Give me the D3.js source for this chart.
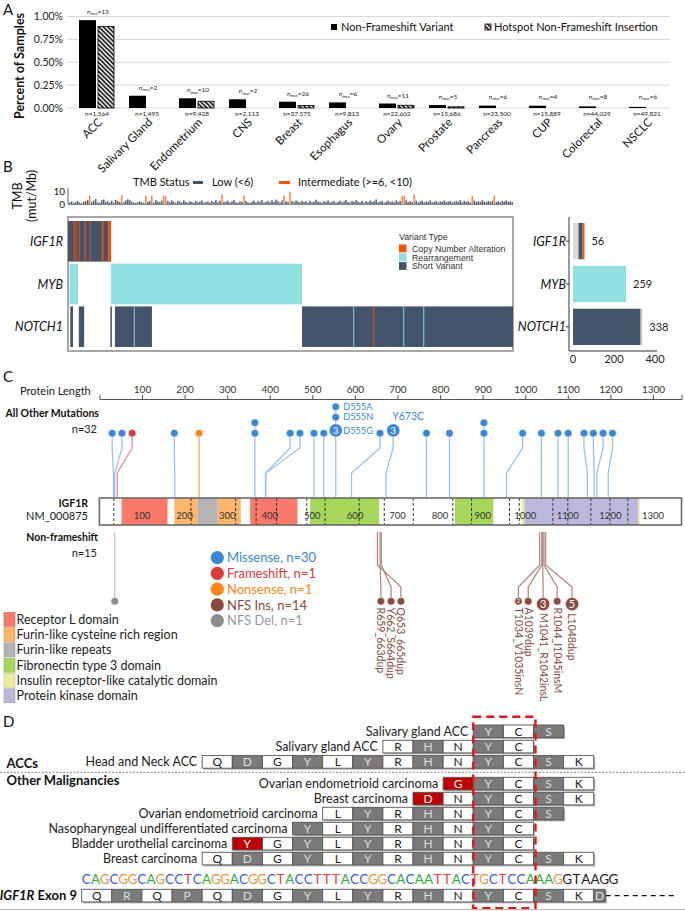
<!DOCTYPE html>
<html><head><meta charset="utf-8">
<script src="https://cdn.jsdelivr.net/npm/d3@7"></script>
<style>body{margin:0;background:#fff}svg{display:block}</style>
</head><body>
<svg id="chart" width="685" height="911"></svg>
<script>
// ================= DATA =================
// Panel A
const cancerTypes = ["ACC","Salivary Gland","Endometrium","CNS","Breast","Esophagus","Ovary","Prostate","Pancreas","CUP","Colorectal","NSCLC"];
const sampleCounts = ["1,564","1,495","9,428","2,113","37,575","9,813","22,602","15,686","23,500","15,889","44,029","49,821"];
const mutCounts = [15,2,10,2,26,6,11,5,6,4,8,6];
const nonFrameshiftPct = [0.96,0.134,0.106,0.095,0.069,0.061,0.049,0.032,0.026,0.025,0.018,0.012];
const hotspotInsPct = [0.89,0,0.074,0,0.027,0,0.03,0.013,0,0,0,0];
const pctTicks = [0,0.25,0.5,0.75,1.0];
const legendA = ["Non-Frameshift Variant","Hotspot Non-Frameshift Insertion"];

// Panel B
const tmbValues = [
1.2,2.0,0.8,1.5,2.4,1.0,0.6,1.8,2.2,3.0, 6.5,1.4,2.6,3.8,1.2,0.9,2.8,3.4,1.6,2.0,
1.1,2.5,1.0,3.2,2.2,1.5,7.0,1.3,2.7,3.6, 2.9,1.8,1.0,0.7,1.4,2.1,1.2,0.9,6.5,1.6,
2.3,6.5,1.1,3.0,2.0,1.4,2.6,6.5,6.0,2.2, 1.3,2.8,1.7,0.8,2.4,1.9,1.2,2.9,1.5,1.0,
2.2,1.6,0.9,2.5,1.3,1.8,2.7,1.1,1.4,2.0, 1.0,2.3,1.5,3.1,1.2,2.4,7.5,1.6,1.9,2.6,
1.1,2.0,3.2,1.4,0.8,2.1,1.7,6.5,2.4,1.3, 0.9,1.8,2.6,1.2,2.2,1.5,3.0,1.0,1.7,2.4,
1.3,2.9,1.6,3.4,2.2,1.1,2.8,6.5,2.0,1.5, 9.5,2.3,1.4,2.7,1.9,1.2,2.5,1.6,2.1,1.0,
2.6,1.3,1.8,3.3,2.0,1.4,0.9,2.2,1.5,2.8, 1.2,1.9,2.4,1.0,1.7,2.6,1.3,2.0,3.1,1.5,
1.1,2.3,1.6,2.9,1.8,1.2,2.5,1.0,2.2,1.4, 2.7,1.6,2.1,3.5,1.3,1.9,2.4,1.0,1.8,2.6,
1.5,2.0,1.2,2.8,1.7,2.3,6.0,6.5,2.9,1.4, 2.2,1.6,7.5,2.5,1.1,1.9,2.6,1.3,2.0,1.5,
2.8,1.2,1.7,2.3,1.0,2.1,1.6,2.7,1.4,1.9, 2.5,1.1,1.8,2.2,1.5,3.0,1.3,2.4,1.7,2.0,
1.2,6.0,2.6,1.6,2.1,1.4,2.9,1.8,1.3,2.3, 1.7,2.5,6.5,1.5,2.0,1.2,2.4,1.9,2.8,1.6,
2.1,1.4];
const tmbTicks = [0,10];
const tmbLegend = ["Low (<6)","Intermediate (>=6, <10)"];
const oncoGenes = ["IGF1R","MYB","NOTCH1"];
const oncoSampleTotal = 578;
const variantTypes = ["Copy Number Alteration","Rearrangement","Short Variant"];
// [gene, first sample, last sample, variant type]
const oncoSegments = [
 ["IGF1R",0,56,"Short Variant"],
 ["IGF1R",7.3,8.6,"Copy Number Alteration"],["IGF1R",10,11.2,"Copy Number Alteration"],
 ["IGF1R",14,15.2,"Copy Number Alteration"],["IGF1R",21.6,22.9,"Copy Number Alteration"],
 ["IGF1R",28.2,29.4,"Copy Number Alteration"],["IGF1R",43.8,46,"Copy Number Alteration"],
 ["IGF1R",51.6,55.5,"Copy Number Alteration"],
 ["MYB",2,13,"Rearrangement"],["MYB",56,304,"Rearrangement"],
 ["NOTCH1",3,6.5,"Short Variant"],["NOTCH1",14,21,"Short Variant"],["NOTCH1",55,57,"Short Variant"],
 ["NOTCH1",61,109,"Short Variant"],["NOTCH1",304,578,"Short Variant"],
 ["NOTCH1",85.5,86.7,"Rearrangement"],["NOTCH1",370.5,371.7,"Rearrangement"],
 ["NOTCH1",396.5,397.7,"Copy Number Alteration"],["NOTCH1",435.5,436.7,"Rearrangement"],
 ["NOTCH1",461.5,462.7,"Rearrangement"]
];
const geneTotals = [56,259,338];
// [gene, variant type, count]
const geneStacks = [
 ["IGF1R","Other",27],["IGF1R","Short Variant",20],["IGF1R","Copy Number Alteration",9],
 ["MYB","Rearrangement",259],
 ["NOTCH1","Short Variant",330],["NOTCH1","Rearrangement",3],["NOTCH1","CNA light",5]
];
const geneBarTicks = [0,200,400];

// Panel C
const proteinLength = 1367;
const proteinTicks = [100,200,300,400,500,600,700,800,900,1000,1100,1200,1300];
const domainNames = ["Receptor L domain","Furin-like cysteine rich region","Furin-like repeats","Fibronectin type 3 domain","Insulin receptor-like catalytic domain","Protein kinase domain"];
// [domain index, start aa, end aa]
const domainRegions = [[0,52,160],[1,176,231],[2,231,278],[1,278,332],[0,354,465],[3,495,657],[3,835,925],[4,992,998],[5,998,1266],[4,1266,1270]];
const exonBoundaries = [34,215,320,368,416,487,530,610,669,737,830,874,963,986,1065,1100,1154,1199,1241];
// [type, aa, display aa, count, label]
const otherMutations = [
 ["Missense",33,30,1,""],["Missense",36,53,1,""],["Frameshift",42,77,1,""],
 ["Missense",177,176,1,""],["Nonsense",234,234,1,""],
 ["Missense",365,365,1,""],["Missense",365,365,1,""],
 ["Missense",390,448,1,""],["Missense",391,471,1,""],
 ["Missense",504,504,1,""],["Missense",527,527,1,""],
 ["Missense",555,555,3,"D555G"],["Missense",555,555,1,"D555N"],["Missense",555,555,1,"D555A"],
 ["Missense",592,659,1,""],["Missense",673,690,3,"Y673C"],
 ["Missense",768,768,1,""],["Missense",822,822,1,""],
 ["Missense",903,903,1,""],["Missense",903,903,1,""],
 ["Missense",956,994,1,""],["Missense",1038,1038,1,""],["Missense",1077,1077,1,""],
 ["Missense",1101,1101,1,""],["Missense",1146,1138,1,""],["Missense",1162,1160,1,""],
 ["Missense",1168,1183,1,""],["Missense",1195,1205,1,""]
];
const nonFrameshiftMutations = [
 ["NFS Del",36,36,1,""],
 ["NFS Ins",659,661,1,"R659_663dup"],["NFS Ins",662,685,1,"Y662_S664dup"],["NFS Ins",653,708,1,"Q653_665dup"],
 ["NFS Ins",1034,984,2,"T1034_V1035insN"],["NFS Ins",1039,1007,1,"A1039dup"],
 ["NFS Ins",1041,1042,3,"M1041_R1042insL"],["NFS Ins",1044,1075,1,"R1044_I1045insM"],
 ["NFS Ins",1048,1110,5,"L1048dup"]
];
const mutTypeNames = ["Missense","Frameshift","Nonsense","NFS Ins","NFS Del"];
const mutTypeCounts = [30,1,1,14,1];

// Panel D
const exon9AminoAcids = ["Q","R","Q","P","Q","D","G","Y","L","Y","R","H","N","Y","C","S","K","D"];
const exon9Dna = "CAGCGGCAGCCTCAGGACGGCTACCTTTACCGGCACAATTACTGCTCCAAAGGTAAGG";
const exon9CodingLength = 52;
// [group, label, first column, residues, mutated columns]
const alignmentRows = [
 ["ACCs","Salivary gland ACC",13,"YCS",[]],
 ["ACCs","Salivary gland ACC",10,"RHNYC",[]],
 ["ACCs","Head and Neck ACC",4,"QDGYLYRHNYCSK",[]],
 ["Other Malignancies","Ovarian endometrioid carcinoma",12,"GYCSK",[12]],
 ["Other Malignancies","Breast carcinoma",11,"DNYCSK",[11]],
 ["Other Malignancies","Ovarian endometrioid carcinoma",8,"LYRHNYCS",[]],
 ["Other Malignancies","Nasopharyngeal undifferentiated carcinoma",7,"YLYRHNYC",[]],
 ["Other Malignancies","Bladder urothelial carcinoma",5,"YGYLYRHNYC",[5]],
 ["Other Malignancies","Breast carcinoma",4,"QDGYLYRHNYCSK",[]]
];
const hotspotCols = [13,14];

// ================= DRAW =================
const F = "Lato, 'Open Sans', sans-serif";
const svg = d3.select("#chart").style("font-family",F);
const defs = svg.append("defs");
const pat = defs.append("pattern").attr("id","hatch").attr("patternUnits","userSpaceOnUse").attr("width",4.5).attr("height",4.5);
pat.append("rect").attr("width",4.5).attr("height",4.5).attr("fill","#fff");
pat.append("path").attr("d","M-1,-1 L5.5,5.5 M-1,3.5 L1,5.5 M3.5,-1 L5.5,1").attr("stroke","#000").attr("stroke-width",1.5);

const panelLetter = (t,x,y)=>svg.append("text").attr("x",x).attr("y",y).attr("font-size",15).attr("fill","#111").text(t);
panelLetter("A",3,15); panelLetter("B",3,172); panelLetter("C",3,382); panelLetter("D",3,727);

// ---------- Panel A ----------
const gA = svg.append("g");
const xA = d3.scaleBand().domain(cancerTypes).range([72,672]);
const cA = d => xA(d)+xA.bandwidth()/2;
const yA = d3.scaleLinear().domain([0,1]).range([108,16.5]);
gA.selectAll("line.grid").data(pctTicks).join("line").attr("class","grid")
 .attr("x1",67).attr("x2",670).attr("y1",d=>yA(d)).attr("y2",d=>yA(d)).attr("stroke","#d9d9d9");
gA.selectAll("text.yt").data(pctTicks).join("text").attr("class","yt")
 .attr("x",63).attr("y",d=>yA(d)+3.8).attr("text-anchor","end").attr("font-size",10.5).attr("fill","#222")
 .text(d=>d3.format(".2f")(d)+"%");
gA.append("text").attr("transform","translate(24,66) rotate(-90)").attr("text-anchor","middle")
 .attr("font-size",12.5).attr("font-weight","bold").attr("fill","#111").text("Percent of Samples");
gA.selectAll("rect.nf").data(cancerTypes).join("rect").attr("class","nf")
 .attr("x",d=>cA(d)-18).attr("width",17)
 .attr("y",(d,i)=>yA(nonFrameshiftPct[i])).attr("height",(d,i)=>yA(0)-yA(nonFrameshiftPct[i])).attr("fill","#000");
gA.selectAll("rect.hs").data(cancerTypes.filter((d,i)=>hotspotInsPct[i]>0)).join("rect").attr("class","hs")
 .attr("x",d=>cA(d)+1).attr("width",16)
 .attr("y",d=>yA(hotspotInsPct[cancerTypes.indexOf(d)]))
 .attr("height",d=>yA(0)-yA(hotspotInsPct[cancerTypes.indexOf(d)]))
 .attr("fill","url(#hatch)").attr("stroke","#000").attr("stroke-width",0.8);
const nm = gA.selectAll("text.nm").data(cancerTypes).join("text").attr("class","nm")
 .attr("x",d=>cA(d)+1).attr("text-anchor","middle").attr("font-size",6.5).attr("fill","#222")
 .attr("y",(d,i)=>Math.min(yA(Math.max(nonFrameshiftPct[i],hotspotInsPct[i]))-6,99));
nm.append("tspan").text("n");
nm.append("tspan").attr("font-size",4.2).attr("dy",1.2).text("mut");
nm.append("tspan").attr("dy",-1.2).text((d,i)=>"="+mutCounts[i]);
gA.selectAll("text.ns").data(cancerTypes).join("text").attr("class","ns")
 .attr("x",d=>cA(d)).attr("y",116).attr("text-anchor","middle").attr("font-size",6.5).attr("fill","#222")
 .text((d,i)=>"n="+sampleCounts[i]);
gA.selectAll("text.cat").data(cancerTypes).join("text").attr("class","cat")
 .attr("transform",d=>`translate(${cA(d)+6},123) rotate(-45)`).attr("text-anchor","end")
 .attr("font-size",11.5).attr("fill","#111").text(d=>d);
gA.append("rect").attr("x",331).attr("y",24).attr("width",6).attr("height",6).attr("fill","#000");
gA.append("text").attr("x",341).attr("y",30.5).attr("font-size",11).attr("fill","#111").text(legendA[0]);
gA.append("rect").attr("x",485).attr("y",24).attr("width",6).attr("height",6).attr("fill","url(#hatch)").attr("stroke","#000").attr("stroke-width",0.8);
gA.append("text").attr("x",494).attr("y",30.5).attr("font-size",11).attr("fill","#111").text(legendA[1]);

// ---------- Panel B ----------
const colDark = "#44546a", colOrange = "#ff4f00", colTeal = "#8fe0df";
const typeColor = {"Copy Number Alteration":colOrange,"Rearrangement":colTeal,"Short Variant":colDark,"Other":"#d9d9d9","CNA light":"#f8b98f"};
const gB = svg.append("g");
gB.append("text").attr("x",133).attr("y",186).attr("font-size",11).attr("fill","#111").text("TMB Status");
gB.append("rect").attr("x",193).attr("y",181).attr("width",10).attr("height",3).attr("fill",colDark);
gB.append("text").attr("x",212).attr("y",186).attr("font-size",11).attr("fill","#111").text(tmbLegend[0]);
gB.append("rect").attr("x",279).attr("y",181).attr("width",11).attr("height",3).attr("fill",colOrange);
gB.append("text").attr("x",298).attr("y",186).attr("font-size",11).attr("fill","#111").text(tmbLegend[1]);
const xT = d3.scaleBand().domain(d3.range(tmbValues.length)).range([69,513]).paddingInner(0.3);
const yT = d3.scaleLinear().domain([0,10]).range([204,191]);
gB.selectAll("rect.tmb").data(tmbValues).join("rect").attr("class","tmb")
 .attr("x",(d,i)=>xT(i)).attr("width",xT.bandwidth()).attr("y",d=>yT(d)).attr("height",d=>yT(0)-yT(d))
 .attr("fill",d=>d>=6?"#ff7a3d":colDark);
gB.append("line").attr("x1",68).attr("x2",68).attr("y1",188).attr("y2",205).attr("stroke","#666");
gB.append("line").attr("x1",68).attr("x2",513).attr("y1",204.5).attr("y2",204.5).attr("stroke","#888");
gB.selectAll("text.tt").data(tmbTicks).join("text").attr("class","tt").attr("x",65).attr("y",d=>yT(d)+3.5)
 .attr("text-anchor","end").attr("font-size",10).attr("fill","#222").text(d=>d);
gB.append("text").attr("transform","translate(22,196) rotate(-90)").attr("text-anchor","middle").attr("font-size",12.5).attr("fill","#111").text("TMB");
gB.append("text").attr("transform","translate(36,196) rotate(-90)").attr("text-anchor","middle").attr("font-size",12.5).attr("fill","#111").text("(mut/Mb)");
const xS = d3.scaleLinear().domain([0,oncoSampleTotal]).range([68,513]);
const yG = d3.scaleBand().domain(oncoGenes).range([221,347]).paddingInner(0.05);
gB.append("rect").attr("x",68).attr("y",217).attr("width",445).attr("height",134).attr("fill","#fff").attr("stroke","#a6a6a6").attr("stroke-width",2);
gB.selectAll("rect.cell").data(oncoSegments).join("rect").attr("class","cell")
 .attr("x",d=>xS(d[1])).attr("width",d=>Math.max(0.9,xS(d[2])-xS(d[1])))
 .attr("y",d=>yG(d[0])).attr("height",yG.bandwidth()).attr("fill",d=>typeColor[d[3]]);
gB.selectAll("text.gl").data(oncoGenes).join("text").attr("class","gl")
 .attr("x",63).attr("y",d=>yG(d)+yG.bandwidth()/2+4.5).attr("text-anchor","end")
 .attr("font-size",12.5).attr("font-style","italic").attr("fill","#111").text(d=>d);
gB.append("text").attr("x",399).attr("y",240).attr("font-size",8.8).attr("fill","#333").attr("font-family","'Liberation Sans',Arial,sans-serif").text("Variant Type");
variantTypes.forEach((v,i)=>{
 gB.append("rect").attr("x",399).attr("y",244.5+i*8.8).attr("width",7.5).attr("height",7.8).attr("fill",typeColor[v]);
 gB.append("text").attr("x",412).attr("y",251.8+i*8.8).attr("font-size",8.8).attr("fill","#333").attr("font-family","'Liberation Sans',Arial,sans-serif").text(v);
});
const xGB = d3.scaleLinear().domain([0,400]).range([573,655]);
const yGB = d3.scaleBand().domain(oncoGenes).range([221,347]).paddingInner(0.06);
const stackStart = geneStacks.map((d,i)=>d3.sum(geneStacks.slice(0,i).filter(e=>e[0]===d[0]),e=>e[2]));
gB.selectAll("rect.gbar").data(geneStacks).join("rect").attr("class","gbar")
 .attr("x",(d,i)=>xGB(stackStart[i])).attr("width",d=>xGB(d[2])-xGB(0))
 .attr("y",d=>yGB(d[0])+2).attr("height",yGB.bandwidth()-4).attr("fill",d=>typeColor[d[1]]);
gB.append("line").attr("x1",569).attr("x2",569).attr("y1",217).attr("y2",351).attr("stroke","#333");
gB.append("line").attr("x1",569).attr("x2",657).attr("y1",351).attr("y2",351).attr("stroke","#333");
gB.selectAll("text.bt").data(geneBarTicks).join("text").attr("class","bt").attr("x",d=>xGB(d)).attr("y",363)
 .attr("text-anchor","middle").attr("font-size",11).attr("fill","#222").text(d=>d);
gB.selectAll("text.bgl").data(oncoGenes).join("text").attr("class","bgl")
 .attr("x",566).attr("y",d=>yGB(d)+yGB.bandwidth()/2+4.5).attr("text-anchor","end")
 .attr("font-size",12.5).attr("font-style","italic").attr("fill","#111").text(d=>d);
gB.selectAll("line.btk").data(oncoGenes).join("line").attr("class","btk").attr("x1",566).attr("x2",569)
 .attr("y1",d=>yGB(d)+yGB.bandwidth()/2).attr("y2",d=>yGB(d)+yGB.bandwidth()/2).attr("stroke","#333");
gB.selectAll("text.bv").data(oncoGenes).join("text").attr("class","bv")
 .attr("x",(d,i)=>xGB(geneTotals[i])+7).attr("y",d=>yGB(d)+yGB.bandwidth()/2+4)
 .attr("font-size",11).attr("fill","#222").text((d,i)=>geneTotals[i]);

// ---------- Panel C ----------
const gC = svg.append("g");
const xP = d3.scaleLinear().domain([0,proteinLength]).range([99.4,681.5]);
const mutColor = {"Missense":"#3a87d6","Frameshift":"#d93b3b","Nonsense":"#ff8514","NFS Ins":"#8a4a3e","NFS Del":"#8c8c8c"};
const stemColor = {"Missense":"#9cc2e8","Frameshift":"#ec8d8d","Nonsense":"#f7a461","NFS Ins":"#b08277","NFS Del":"#c4c4c4"};
const textColor = {"Missense":"#3a87d6","Frameshift":"#e03a3a","Nonsense":"#ff8514","NFS Ins":"#8a4a3e","NFS Del":"#9a9a9a"};
gC.append("text").attr("x",20).attr("y",394.5).attr("font-size",11).attr("fill","#222").text("Protein Length");
const axP = d3.axisTop(xP).tickValues(proteinTicks).tickFormat(d3.format("d")).tickSize(4).tickPadding(2);
const axg = gC.append("g").attr("transform","translate(0,399)").call(axP);
axg.select(".domain").attr("stroke","#555");
axg.selectAll(".tick line").attr("stroke","#555");
axg.selectAll(".tick text").attr("font-size",10).attr("fill","#333").attr("font-family",F);
gC.append("text").attr("x",99).attr("y",416.5).attr("text-anchor","end").attr("font-size",10.5).attr("font-weight","bold").attr("fill","#111").text("All Other Mutations");
gC.append("text").attr("x",97).attr("y",432.5).attr("text-anchor","end").attr("font-size",11).attr("fill","#222").text("n=32");
gC.append("text").attr("x",88).attr("y",506.5).attr("text-anchor","end").attr("font-size",10.5).attr("font-weight","bold").attr("fill","#111").text("IGF1R");
gC.append("text").attr("x",88).attr("y",520).attr("text-anchor","end").attr("font-size",11).attr("fill","#222").text("NM_000875");
gC.append("text").attr("x",98).attr("y",541).attr("text-anchor","end").attr("font-size",10.5).attr("font-weight","bold").attr("fill","#111").text("Non-frameshift");
gC.append("text").attr("x",97).attr("y",557).attr("text-anchor","end").attr("font-size",11).attr("fill","#222").text("n=15");
const domainColor = ["#f8786a","#fbb66c","#b3b3b3","#a6d75b","#ecec9e","#bcb8dc"];
const barTop = 498, barH = 27;
gC.append("rect").attr("x",xP(0)).attr("y",barTop).attr("width",xP(proteinLength)-xP(0)).attr("height",barH).attr("fill","#fff");
gC.selectAll("rect.dom").data(domainRegions).join("rect").attr("class","dom")
 .attr("x",d=>xP(d[1])).attr("width",d=>xP(d[2])-xP(d[1])).attr("y",barTop).attr("height",barH).attr("fill",d=>domainColor[d[0]]);
gC.selectAll("line.ex").data(exonBoundaries).join("line").attr("class","ex")
 .attr("x1",d=>xP(d)).attr("x2",d=>xP(d)).attr("y1",barTop).attr("y2",barTop+barH)
 .attr("stroke","#222").attr("stroke-dasharray","3,2").attr("stroke-width",0.9);
gC.selectAll("text.pin").data(proteinTicks).join("text").attr("class","pin")
 .attr("x",d=>xP(d)).attr("y",519).attr("text-anchor","middle").attr("font-size",9.5).attr("fill","#333").text(d=>d);
gC.append("rect").attr("x",xP(0)).attr("y",barTop).attr("width",xP(proteinLength)-xP(0)).attr("height",barH)
 .attr("fill","none").attr("stroke","#6a6a6a").attr("stroke-width",1.6);
const rad = c => c>=3?6.6:3.8;
const groupsUp = d3.groups(otherMutations, d=>d[2]+"|"+d[0]);
groupsUp.forEach(([k,arr])=>{
 arr = arr.slice().sort((a,b)=>b[3]-a[3]);
 let yb = 437;
 const heads = arr.map(d=>{const r=rad(d[3]); const cy=yb-r; yb=cy-r-2.8; return {d,r,cy};});
 const hx = xP(arr[0][2]);
 const actuals = Array.from(new Set(arr.map(d=>d[1])));
 actuals.forEach(a=>{
  gC.append("path").attr("d",`M${hx},${heads[heads.length-1].cy}L${hx},448L${xP(a)},473L${xP(a)},${barTop-1}`)
   .attr("fill","none").attr("stroke",stemColor[arr[0][0]]).attr("stroke-width",1.3);
 });
 heads.forEach(h=>{
  gC.append("circle").attr("cx",hx).attr("cy",h.cy).attr("r",h.r).attr("fill",mutColor[h.d[0]]).attr("stroke","#fff").attr("stroke-width",0.5);
  if(h.d[3]>1) gC.append("text").attr("x",hx).attr("y",h.cy+3.6).attr("text-anchor","middle").attr("font-size",10).attr("fill","#fff").text(h.d[3]);
  if(h.d[4]){
   if(heads.length>1) gC.append("text").attr("x",hx+7.5).attr("y",h.cy+3.2).attr("font-size",9.2).attr("fill",textColor[h.d[0]]).text(h.d[4]);
   else gC.append("text").attr("x",hx-1).attr("y",h.cy-h.r-4).attr("font-size",10.5).attr("fill",textColor[h.d[0]]).text(h.d[4]);
  }
 });
});
const nfTop = 532, nfBend1 = 565, nfBend2 = 587, nfHeadTop = 597.5;
nonFrameshiftMutations.forEach(d=>{
 const ax = xP(d[1]), hx = xP(d[2]), r = rad(d[3]), cy = nfHeadTop + r;
 gC.append("path").attr("d",`M${ax},${nfTop}L${ax},${nfBend1}L${hx},${nfBend2}L${hx},${cy}`)
  .attr("fill","none").attr("stroke",stemColor[d[0]]).attr("stroke-width",1.2);
});
nonFrameshiftMutations.forEach(d=>{
 const hx = xP(d[2]), r = rad(d[3]), cy = nfHeadTop + r;
 gC.append("circle").attr("cx",hx).attr("cy",cy).attr("r",r).attr("fill",mutColor[d[0]]).attr("stroke","#fff").attr("stroke-width",0.5);
 if(d[3]>1) gC.append("text").attr("x",hx).attr("y",cy+(r>5?3.8:2)).attr("text-anchor","middle").attr("font-size",r>5?11:5.5).attr("fill","#fff").text(d[3]);
 if(d[4]) gC.append("text").attr("transform",`translate(${hx-3.6},${cy+r+2.5}) rotate(90)`)
  .attr("font-size",10.5).attr("fill","#8a4a3e").text(d[4]);
});
mutTypeNames.forEach((t,i)=>{
 const y = 557.7 + i*15.75;
 gC.append("circle").attr("cx",217.3).attr("cy",y).attr("r",6.6).attr("fill",mutColor[t]);
 gC.append("text").attr("x",227).attr("y",y+4.6).attr("font-size",13).attr("fill",textColor[t]).text(`${t}, n=${mutTypeCounts[i]}`);
});
domainNames.forEach((t,i)=>{
 const y = 619.3 + i*15.3;
 gC.append("rect").attr("x",4).attr("y",y-7).attr("width",11).attr("height",14).attr("fill",domainColor[i])
  .attr("stroke",d3.color(domainColor[i]).darker(0.5)).attr("stroke-width",0.6);
 gC.append("text").attr("x",16.5).attr("y",y+4.5).attr("font-size",12.5).attr("fill","#222").text(t);
});

// ---------- Panel D ----------
const gD = svg.append("g");
const colW = 30.12;
const xCol = c => 81.7 + colW*c;
const boxH = 12.6;
const rowTop = alignmentRows.map((r,i)=> r[0]==="ACCs" ? 725 + 15.3*i : 777.3 + 15*(i-3));
const boxFill = (c,mut) => mut ? "#c00000" : (c%2===1 ? "#7a7a7a" : "#ffffff");
const boxText = (c,mut) => mut ? "#ffffff" : (c%2===1 ? "#dcdcdc" : "#222");
function drawBoxes(residues, startCol, top, mutCols, widths){
 residues.forEach((aa,j)=>{
  const c = startCol + j, w = widths ? widths[j] : colW, mut = mutCols.includes(c);
  gD.append("rect").attr("x",xCol(c)+1.5).attr("y",top+1.5).attr("width",w).attr("height",boxH).attr("fill","#b0b0b0");
  gD.append("rect").attr("x",xCol(c)).attr("y",top).attr("width",w).attr("height",boxH)
   .attr("fill",boxFill(c,mut)).attr("stroke","#555").attr("stroke-width",0.9);
  gD.append("text").attr("x",xCol(c)+w/2).attr("y",top+boxH/2+4.3).attr("text-anchor","middle")
   .attr("font-size",12).attr("fill",boxText(c,mut)).text(aa);
 });
}
alignmentRows.forEach((r,i)=>{
 const top = rowTop[i];
 drawBoxes(r[3].split(""), r[2], top, r[4]);
 gD.append("text").attr("x",xCol(r[2])-5).attr("y",top+boxH/2+4.3).attr("text-anchor","end")
  .attr("font-size",12.5).attr("fill","#222").text(r[1]);
});
gD.append("text").attr("x",6.5).attr("y",768).attr("font-size",13).attr("font-weight","bold").attr("fill","#111").text("ACCs");
gD.append("line").attr("x1",0).attr("x2",685).attr("y1",772.3).attr("y2",772.3).attr("stroke","#777").attr("stroke-dasharray","2,1.5").attr("stroke-width",0.9);
gD.append("text").attr("x",6.5).attr("y",784.5).attr("font-size",13).attr("font-weight","bold").attr("fill","#111").text("Other Malignancies");
const baseColor = {A:"#2fae3a",C:"#3a5fe0",G:"#e8963a",T:"#e8413c"};
gD.selectAll("text.nt").data(exon9Dna.split("")).join("text").attr("class","nt")
 .attr("x",(d,i)=>81.7 + 9.25*i + 4.6).attr("y",884).attr("text-anchor","middle").attr("font-size",13.5)
 .attr("fill",(d,i)=> i<exon9CodingLength ? baseColor[d] : "#222").text(d=>d);
const exTop = 889.3;
drawBoxes(exon9AminoAcids, 0, exTop, [], exon9AminoAcids.map((d,j)=> j===exon9AminoAcids.length-1 ? 11.5 : colW));
gD.append("line").attr("x1",xCol(17)+12).attr("x2",677).attr("y1",exTop+boxH/2).attr("y2",exTop+boxH/2)
 .attr("stroke","#111").attr("stroke-dasharray","5,4").attr("stroke-width",1.2);
const lab = gD.append("text").attr("x",77).attr("y",exTop+boxH/2+4.5).attr("text-anchor","end").attr("font-size",13).attr("font-weight","bold").attr("fill","#111");
lab.append("tspan").attr("font-style","italic").text("IGF1R");
lab.append("tspan").text(" Exon 9");
gD.append("rect").attr("x",xCol(hotspotCols[0])).attr("y",716.7).attr("width",xCol(hotspotCols[1]+1)-xCol(hotspotCols[0])+2).attr("height",191.6)
 .attr("fill","none").attr("stroke","#e8141b").attr("stroke-width",2.4).attr("stroke-dasharray","8,5");
gD.append("line").attr("x1",0).attr("x2",685).attr("y1",909.5).attr("y2",909.5).attr("stroke","#bbb");
</script>
</body></html>
